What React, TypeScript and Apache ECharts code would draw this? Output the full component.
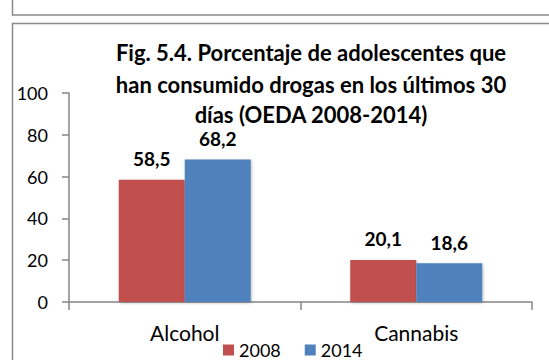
import React, { useEffect, useRef } from "react";
import * as echarts from "echarts";

const categories = ["Alcohol", "Cannabis"];
const seriesNames = ["2008", "2014"];
const values2008 = [58.5, 20.1];
const values2014 = [68.2, 18.6];
const yTicks = { min: 0, max: 100, interval: 20 };
const titleLines = [
  "Fig. 5.4. Porcentaje de adolescentes que",
  "han consumido drogas en los últimos 30",
  "días (OEDA 2008-2014)",
];

const FONT = "Lato, 'Open Sans', sans-serif";
const GRAY = "#868686";

export default function App() {
  const ref = useRef<HTMLDivElement>(null);
  useEffect(() => {
    if (!ref.current) return;
    const chart = echarts.init(ref.current, null, { renderer: "svg" });
    const fmt = (p: any) => String(p.value).replace(".", ",");
    const titleTops = [42, 74, 104];
    chart.setOption({
      animation: false,
      backgroundColor: "#ffffff",
      textStyle: { fontFamily: FONT },
      graphic: [
        {
          type: "rect",
          shape: { x: 12.5, y: -5, width: 560, height: 20 },
          style: { fill: "none", stroke: "#8a8a8a", lineWidth: 1.5 },
          silent: true,
        },
        {
          type: "rect",
          shape: { x: 12.5, y: 23.5, width: 560, height: 360 },
          style: { fill: "none", stroke: "#8a8a8a", lineWidth: 1.5 },
          silent: true,
        },
      ],
      title: titleLines.map((t, i) => ({
        text: t,
        left: 311,
        top: titleTops[i],
        textAlign: "center",
        padding: 0,
        textStyle: {
          fontFamily: FONT,
          fontSize: 22,
          fontWeight: "bold",
          lineHeight: 20,
          color: "#000",
        },
      })),
      legend: {
        data: seriesNames,
        left: 223,
        top: 341,
        padding: 0,
        itemWidth: 11,
        itemHeight: 11,
        itemGap: 24,
        icon: "rect",
        textStyle: { fontFamily: FONT, fontSize: 18, lineHeight: 18, color: "#000", padding: [0, 0, 0, 0] },
      },
      grid: { left: 69, right: 17, top: 93, bottom: 58, containLabel: false },
      xAxis: {
        type: "category",
        data: categories,
        axisLine: { lineStyle: { color: GRAY, width: 1.5 } },
        axisTick: { show: true, length: 8, lineStyle: { color: GRAY, width: 1.5 } },
        axisLabel: { fontFamily: FONT, fontSize: 21, color: "#000", margin: 20 },
      },
      yAxis: {
        type: "value",
        min: yTicks.min,
        max: yTicks.max,
        interval: yTicks.interval,
        splitLine: { show: false },
        axisLine: { show: true, lineStyle: { color: GRAY, width: 1.5 } },
        axisTick: { show: true, length: 7, lineStyle: { color: GRAY, width: 1.5 } },
        axisLabel: { fontFamily: FONT, fontSize: 18, color: "#000", margin: 21 },
      },
      series: [
        {
          name: seriesNames[0],
          type: "bar",
          data: values2008,
          barWidth: 66,
          barGap: "0%",
          itemStyle: { color: "#C0504D", shadowColor: "rgba(0,0,0,0.25)", shadowBlur: 3, shadowOffsetX: 1, shadowOffsetY: 1 },
          label: {
            show: true,
            position: "top",
            distance: 12,
            formatter: fmt,
            fontFamily: FONT,
            fontSize: 19,
            lineHeight: 18,
            fontWeight: "bold",
            color: "#000",
          },
        },
        {
          name: seriesNames[1],
          type: "bar",
          data: values2014,
          barWidth: 66,
          barGap: "0%",
          itemStyle: { color: "#4F81BD", shadowColor: "rgba(0,0,0,0.25)", shadowBlur: 3, shadowOffsetX: 1, shadowOffsetY: 1 },
          label: {
            show: true,
            position: "top",
            distance: 12,
            formatter: fmt,
            fontFamily: FONT,
            fontSize: 19,
            lineHeight: 18,
            fontWeight: "bold",
            color: "#000",
          },
        },
      ],
    });
    return () => chart.dispose();
  }, []);
  return (
    <div
      ref={ref}
      style={{ position: "fixed", left: 0, top: 0, width: 549, height: 360 }}
    />
  );
}
